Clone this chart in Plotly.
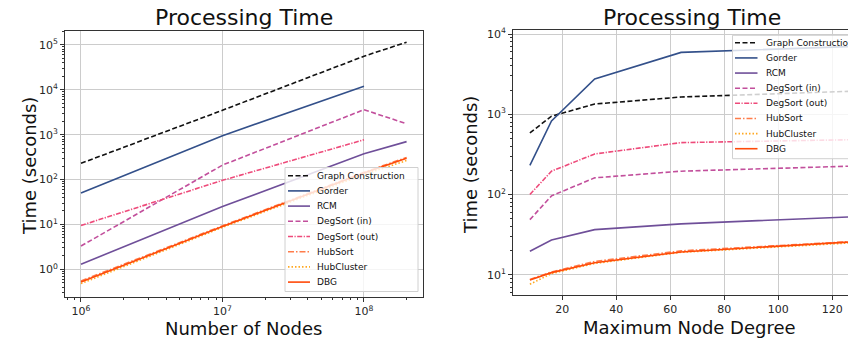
import plotly.graph_objects as go

W, H = 856, 339

# ---------------- data ----------------
series_names = ["Graph Construction", "Gorder", "RCM", "DegSort (in)", "DegSort (out)",
                "HubSort", "HubCluster", "DBG"]

nodes = [1e6, 1e7, 1e8, 2e8]
graph_nodes = [230, 3.5e3, 5.6e4, 1.15e5]
gorder_nodes = [50, 950, 1.2e4]
rcm_nodes = [1.3, 25, 375, 700]
degin_nodes = [3.3, 210, 3.6e3, 1.75e3]
degout_nodes = [9.5, 96, 770]
hubsort_nodes = [0.55, 9.3, 145, 310]
hubcluster_nodes = [0.48, 8.6, 130, 265]
dbg_nodes = [0.52, 9.0, 140, 300]

degrees = [8, 16, 32, 64, 128]
graph_deg = [585, 945, 1340, 1640, 1940]
gorder_deg = [231, 825, 2750, 5900, 7000]
rcm_deg = [19.6, 27, 36.4, 43, 52.8]
degin_deg = [48.5, 96, 161, 195, 226]
degout_deg = [100, 195, 320, 443, 482]
hubsort_deg = [8.7, 10.8, 14.6, 19.8, 25.9]
hubcluster_deg = [7.6, 10.3, 13.8, 19.0, 25.0]
dbg_deg = [8.6, 10.6, 14.1, 19.2, 25.7]

left_ytickvals = [1e0, 1e1, 1e2, 1e3, 1e4, 1e5]
left_yticktext = ["10<sup>0</sup>", "10<sup>1</sup>", "10<sup>2</sup>", "10<sup>3</sup>",
                  "10<sup>4</sup>", "10<sup>5</sup>"]
left_xtickvals = [1e6, 1e7, 1e8]
left_xticktext = ["10<sup>6</sup>", "10<sup>7</sup>", "10<sup>8</sup>"]
right_ytickvals = [1e1, 1e2, 1e3, 1e4]
right_yticktext = ["10<sup>1</sup>", "10<sup>2</sup>", "10<sup>3</sup>", "10<sup>4</sup>"]
right_xtickvals = [20, 40, 60, 80, 100, 120]

# ---------------- styles ----------------
colors = ["#111111", "#33508a", "#6f4f99", "#c24f9c", "#ee4a7a", "#ff7c4a", "#ffa820", "#ff4a0a"]
dashes = ["5px,2.5px", "solid", "solid", "5px,2.5px", "5px,1.5px,1.2px,1.5px",
          "6px,2px,1.5px,2px", "1.5px,2px", "solid"]
LW = 1.6

left_data = [(nodes[:len(v)], v) for v in
             [graph_nodes, gorder_nodes, rcm_nodes, degin_nodes, degout_nodes,
              hubsort_nodes, hubcluster_nodes, dbg_nodes]]
right_data = [(degrees, v) for v in
              [graph_deg, gorder_deg, rcm_deg, degin_deg, degout_deg,
               hubsort_deg, hubcluster_deg, dbg_deg]]

fig = go.Figure()
for i, name in enumerate(series_names):
    xs, ys = left_data[i]
    fig.add_trace(go.Scatter(x=xs, y=ys, mode="lines", name=name, showlegend=False,
                             line=dict(color=colors[i], width=LW, dash=dashes[i]),
                             xaxis="x", yaxis="y"))
for i, name in enumerate(series_names):
    xs, ys = right_data[i]
    fig.add_trace(go.Scatter(x=xs, y=ys, mode="lines", name=name, showlegend=False,
                             line=dict(color=colors[i], width=LW, dash=dashes[i]),
                             xaxis="x2", yaxis="y2"))


def px(x):
    return x / W


def py(y):
    return 1 - y / H


AX = "#333333"
GRID = "#cccccc"
TICKFONT = dict(family="DejaVu Sans", size=11, color="#262626")


def decade_minors(lo, hi):
    out = []
    for d in range(lo, hi + 1):
        for k in range(2, 10):
            out.append(k * 10 ** d)
    return out


common = dict(showline=True, linecolor=AX, linewidth=1, ticks="outside", ticklen=4,
              tickwidth=1, tickcolor=AX, showgrid=True, gridcolor=GRID, gridwidth=1,
              zeroline=False, tickfont=TICKFONT, automargin=False)

fig.update_layout(
    width=W, height=H, margin=dict(l=0, r=0, t=0, b=0),
    paper_bgcolor="white", plot_bgcolor="white",
    xaxis=dict(type="log", domain=[px(57), px(415)], range=[5.887, 8.417],
               tickmode="array", tickvals=left_xtickvals, ticktext=left_xticktext,
               mirror=True, anchor="y",
               minor=dict(tickmode="array", tickvals=decade_minors(5, 8), ticks="outside",
                          ticklen=2, tickcolor=AX, showgrid=False),
               **common),
    yaxis=dict(type="log", domain=[py(289), py(23)], range=[-0.617, 5.31],
               tickmode="array", tickvals=left_ytickvals, ticktext=left_yticktext,
               mirror=True, anchor="x",
               minor=dict(tickmode="array", tickvals=decade_minors(-1, 5), ticks="outside",
                          ticklen=2, tickcolor=AX, showgrid=False),
               **common),
    xaxis2=dict(type="linear", domain=[px(505), 1.0], range=[1.74, 131.74],
                tickmode="array", tickvals=right_xtickvals,
                mirror=True, anchor="y2", **common),
    yaxis2=dict(type="log", domain=[py(286.7), py(21.7)], range=[0.75, 4.054],
                tickmode="array", tickvals=right_ytickvals, ticktext=right_yticktext,
                mirror=False, anchor="x2",
                minor=dict(tickmode="array", tickvals=decade_minors(0, 4), ticks="outside",
                           ticklen=2, tickcolor=AX, showgrid=False),
                **common),
)

annotations = []
shapes = []
TITLE_FONT = dict(family="DejaVu Sans", size=22, color="#111111")
LABEL_FONT = dict(family="DejaVu Sans", size=18, color="#111111")

for cx in (236, 684):
    annotations.append(dict(text="Processing Time", x=px(cx), y=py(23.5), xref="paper", yref="paper",
                            xanchor="center", yanchor="bottom", showarrow=False, font=TITLE_FONT))
annotations.append(dict(text="Number of Nodes", x=px(235), y=py(320), xref="paper", yref="paper",
                        xanchor="center", yanchor="middle", showarrow=False, font=LABEL_FONT))
annotations.append(dict(text="Maximum Node Degree", x=px(681), y=py(319), xref="paper", yref="paper",
                        xanchor="center", yanchor="middle", showarrow=False, font=LABEL_FONT))
for cx, cy in ((21, 158), (462, 157)):
    annotations.append(dict(text="Time (seconds)", x=px(cx), y=py(cy), xref="paper", yref="paper",
                            xanchor="center", yanchor="middle", textangle=-90, showarrow=False,
                            font=LABEL_FONT))

LEG_FONT = dict(family="DejaVu Sans", size=9, color="#111111")


def add_legend(bx0, by0, bx1, by1, row0, step, lx0, lx1, tx):
    shapes.append(dict(type="rect", xref="paper", yref="paper", x0=px(bx0), x1=px(bx1),
                       y0=py(by1), y1=py(by0), fillcolor="rgba(255,255,255,0.8)",
                       line=dict(color="#d0d0d0", width=1), layer="above"))
    for i, name in enumerate(series_names):
        yc = row0 + i * step
        shapes.append(dict(type="line", xref="paper", yref="paper", x0=px(lx0), x1=px(lx1),
                           y0=py(yc), y1=py(yc), layer="above",
                           line=dict(color=colors[i], width=LW, dash=dashes[i])))
        annotations.append(dict(text=name, x=px(tx), y=py(yc), xref="paper", yref="paper",
                                xanchor="left", yanchor="middle", showarrow=False, font=LEG_FONT))


add_legend(277, 159.5, 410, 283.5, 167.7, 15.2, 280, 302, 307)
add_legend(724.5, 27.3, 870, 150.7, 34.8, 15.13, 727, 749.5, 756)

fig.update_layout(annotations=annotations, shapes=shapes)
fig.write_html("out.html")
